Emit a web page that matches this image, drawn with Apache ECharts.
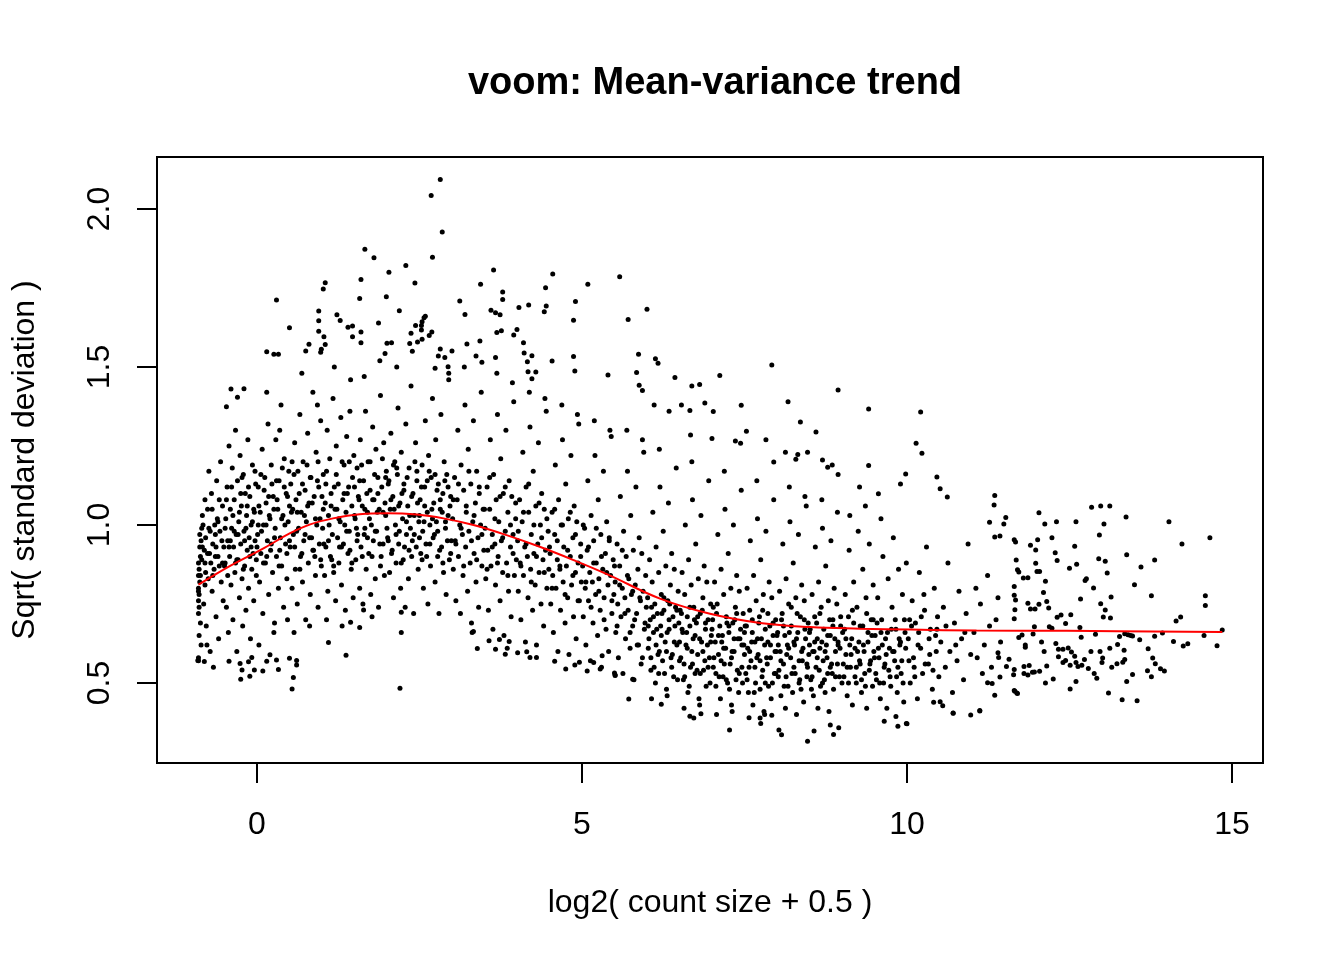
<!DOCTYPE html>
<html><head><meta charset="utf-8">
<script src="https://cdn.jsdelivr.net/npm/echarts@6/dist/echarts.min.js"></script>
<style>html,body{margin:0;padding:0;background:#fff}#c{width:1344px;height:960px}</style>
</head><body><div id="c"></div>
<script>
const chartTitle = 'voom: Mean-variance trend';
const xTitle = 'log2( count size + 0.5 )';
const yTitle = 'Sqrt( standard deviation )';
const xTicks = [0, 5, 10, 15];
const yTicks = [0.5, 1.0, 1.5, 2.0];
const trendX = [-0.9,-0.42,0.1,0.51,0.82,1.17,1.58,2.0,2.46,2.87,3.33,3.84,4.35,4.87,5.4,6.2,6.97,7.74,8.51,9.28,10.05,11.07,12.46,14.85];
const trendY = [0.811,0.870,0.926,0.974,1.002,1.021,1.034,1.037,1.033,1.021,1.0,0.968,0.931,0.889,0.843,0.767,0.719,0.690,0.677,0.672,0.669,0.666,0.665,0.661];

const genesLowMean = [
[-0.9,0.57],[-0.9,0.58],[-0.89,0.65],[-0.9,0.72],[-0.9,0.76],[-0.89,0.78],[-0.9,0.8],[-0.88,0.82],[-0.9,0.84],[-0.89,0.86],[-0.9,0.88],[-0.87,0.9],[-0.88,0.93],[-0.86,0.95],[-0.9,0.79],[-0.89,0.74],[-0.87,0.69],[-0.86,0.62],[-0.85,0.99],[-0.84,1.03],
[-0.82,0.75],[-0.8,0.88],[-0.79,0.96],[-0.78,0.68],[-0.76,1.05],[-0.75,0.83],[-0.73,0.91],[-0.72,0.6],[-0.7,1.1],[-0.69,0.79],[-0.68,0.94],[-0.66,0.86],[-0.65,1.0],[-0.63,0.71],[-0.62,1.14],[-0.6,0.9],[-0.59,0.64],[-0.57,0.98],[-0.56,1.2],[-0.55,0.82],[-0.53,1.06],[-0.52,0.76],[-0.51,0.93],[-0.8,1.08],[-0.77,0.62],[-0.74,1.17],[-0.67,0.55],[-0.64,0.97],[-0.61,1.02],[-0.58,0.87],
[-0.49,0.88],[-0.48,1.02],[-0.47,0.74],[-0.46,1.12],[-0.45,0.95],[-0.44,0.66],[-0.43,1.25],[-0.42,0.9],[-0.41,1.05],[-0.4,0.81],[-0.39,0.99],[-0.38,1.18],[-0.37,0.7],[-0.36,0.93],[-0.35,1.08],[-0.34,0.85],[-0.33,1.3],[-0.32,0.97],[-0.31,0.6],[-0.3,1.14],[-0.29,0.89],[-0.28,1.01],[-0.27,0.77],[-0.26,1.22],[-0.25,0.94],[-0.24,1.06],[-0.23,0.83],[-0.22,0.68],[-0.21,1.16],[-0.2,0.98],[-0.19,0.87],[-0.18,1.1],[-0.17,0.73],[-0.16,1.03],[-0.15,0.92],[-0.14,1.27],[-0.13,0.8],[-0.12,0.96],[-0.11,1.09],[-0.1,0.64],[-0.09,1.0],[-0.08,0.86],[-0.07,1.19],[-0.06,0.91],[-0.05,0.76],[-0.04,1.04],[-0.03,0.95],[-0.02,1.13],[-0.01,0.84],
[0.01,0.97],[0.02,1.12],[0.04,0.82],[0.05,1.04],[0.06,0.91],[0.08,1.24],[0.09,0.72],[0.1,1.0],[0.12,1.15],[0.13,0.88],[0.14,1.07],[0.16,0.95],[0.17,1.32],[0.18,0.78],[0.2,1.02],[0.21,0.92],[0.22,1.19],[0.24,0.85],[0.25,1.09],[0.26,0.66],[0.28,0.99],[0.29,1.27],[0.3,0.9],[0.32,1.05],[0.33,0.8],[0.34,1.14],[0.36,0.96],[0.37,1.38],[0.38,0.87],[0.4,1.03],[0.41,0.74],[0.42,1.21],[0.44,0.94],[0.45,1.1],[0.46,0.83],[0.48,1.01],[0.49,1.17],[0.03,0.62],[0.15,1.42],[0.27,0.69],[0.35,1.3],[0.47,0.7],
[0.51,0.93],[0.52,1.13],[0.54,0.8],[0.55,1.05],[0.56,0.97],[0.58,1.26],[0.59,0.86],[0.6,1.08],[0.62,0.75],[0.63,1.17],[0.64,0.99],[0.66,1.35],[0.67,0.9],[0.68,1.04],[0.7,0.82],[0.71,1.2],[0.72,0.95],[0.74,1.11],[0.75,0.7],[0.76,1.01],[0.78,1.29],[0.79,0.88],[0.8,1.07],[0.82,0.78],[0.83,1.15],[0.84,0.96],[0.86,1.42],[0.87,0.92],[0.88,1.09],[0.9,0.84],[0.91,1.23],[0.92,1.0],[0.94,0.74],[0.95,1.12],[0.96,0.94],[0.98,1.33],[0.99,0.87],[0.57,0.66],[0.69,1.48],[0.81,0.68],[0.93,1.38],
[1.01,0.99],[1.02,1.16],[1.04,0.84],[1.05,1.07],[1.06,0.93],[1.08,1.3],[1.09,0.79],[1.1,1.03],[1.12,1.21],[1.13,0.9],[1.14,1.1],[1.16,0.97],[1.17,1.4],[1.18,0.85],[1.2,1.05],[1.21,0.76],[1.22,1.25],[1.24,0.96],[1.25,1.13],[1.26,0.88],[1.28,1.01],[1.29,1.34],[1.3,0.81],[1.32,1.08],[1.33,0.94],[1.34,1.19],[1.36,0.73],[1.37,1.04],[1.38,1.28],[1.4,0.91],[1.41,1.12],[1.42,0.98],[1.44,1.46],[1.45,0.86],[1.46,1.06],[1.48,0.77],[1.49,1.22],[1.07,0.7],[1.19,1.5],[1.31,0.68],[1.43,1.36],
[1.51,1.02],[1.52,0.89],[1.54,1.18],[1.55,0.97],[1.56,1.09],[1.58,0.8],[1.59,1.27],[1.6,0.93],[1.62,1.06],[1.63,0.75],[1.64,1.14],[1.66,0.99],[1.67,1.36],[1.68,0.86],[1.7,1.04],[1.71,1.2],[1.72,0.91],[1.74,1.11],[1.75,0.78],[1.76,1.0],[1.78,1.31],[1.79,0.95],[1.8,1.08],[1.82,0.83],[1.83,1.24],[1.84,0.98],[1.86,1.15],[1.87,0.74],[1.88,1.05],[1.9,1.41],[1.91,0.9],[1.92,1.12],[1.94,0.94],[1.95,1.26],[1.96,0.84],[1.98,1.03],[1.99,1.17],[1.65,1.47],[1.89,1.52],
[2.01,0.96],[2.02,1.13],[2.04,0.85],[2.05,1.05],[2.06,1.29],[2.08,0.92],[2.09,1.09],[2.1,0.77],[2.12,1.2],[2.13,1.0],[2.14,0.88],[2.16,1.16],[2.17,1.37],[2.18,0.94],[2.2,1.07],[2.21,0.8],[2.22,1.23],[2.24,1.02],[2.25,0.89],[2.26,1.11],[2.28,0.74],[2.29,1.32],[2.3,0.97],[2.32,1.06],[2.33,0.83],[2.34,1.18],[2.36,0.99],[2.37,1.44],[2.38,0.9],[2.4,1.1],[2.41,0.72],[2.42,1.03],[2.44,1.26],[2.45,0.93],[2.46,1.14],[2.48,0.86],[2.49,1.01],[2.15,1.5],[2.39,1.55],
[2.51,1.08],[2.52,0.91],[2.54,1.19],[2.55,0.98],[2.56,0.8],[2.58,1.12],[2.59,1.33],[2.6,0.94],[2.62,1.04],[2.63,0.75],[2.64,1.22],[2.66,1.0],[2.67,0.87],[2.68,1.15],[2.7,1.4],[2.71,0.96],[2.72,1.07],[2.74,0.82],[2.75,1.27],[2.76,1.01],[2.78,0.9],[2.79,1.13],[2.8,0.72],[2.82,1.05],[2.83,1.35],[2.84,0.93],[2.86,1.1],[2.87,0.85],[2.88,1.2],[2.9,0.99],[2.91,0.78],[2.92,1.16],[2.94,1.03],[2.95,1.46],[2.96,0.89],[2.98,1.09],[2.99,0.95],[2.65,1.6],[2.89,1.53]
];

const denseLowMean = [
[-0.88,0.97],[-0.85,0.89],[-0.83,1.0],[-0.81,0.92],[-0.79,0.85],[-0.74,0.99],[-0.71,0.88],[-0.69,1.05],[-0.64,0.9],[-0.6,1.01],[-0.54,0.95],[-0.5,0.87],[-0.47,1.08],[-0.43,0.93],[-0.39,1.12],[-0.35,0.98],[-0.31,0.89],[-0.27,1.04],[-0.23,1.15],[-0.19,0.95],[-0.15,1.06],[-0.11,0.9],[-0.07,1.01],[-0.03,1.17],[0.0,0.93],[0.03,1.06],[0.07,0.98],[0.11,1.11],[0.15,0.9],[0.19,1.03],[0.23,1.13],[0.27,0.96],[0.31,1.08],[0.35,0.92],[0.39,1.18],[0.43,1.0],[0.47,1.09],[0.5,0.95],[0.53,1.04],[0.57,1.16],[0.61,0.98],[0.65,1.1],[0.69,0.91],[0.73,1.03],[0.77,1.19],[0.81,0.96],[0.85,1.07],[0.89,0.9],[0.93,1.14],[0.97,1.02],[1.0,1.09],[1.03,0.94],[1.07,1.17],[1.11,1.0],[1.15,0.89],[1.19,1.12],[1.23,1.05],[1.27,0.93],[1.31,1.2],[1.35,1.0],[1.39,1.1],[1.43,0.92],[1.47,1.15],[1.5,1.03],[1.54,0.95],[1.57,1.08],[1.61,1.19],[1.65,0.97],[1.69,1.1],[1.73,1.02],[1.77,0.9],[1.81,1.16],[1.85,1.04],[1.89,0.94],[1.93,1.21],[1.97,1.07],[2.0,0.99],[2.03,1.14],[2.07,0.91],[2.11,1.05],[2.15,1.18],[2.19,0.98],[2.23,1.1],[2.27,0.93],[2.31,1.15],[2.35,1.03],[2.39,0.95],[2.43,1.2],[2.47,1.07],[2.5,0.96],[2.53,1.12],[2.57,1.01],[2.61,0.9],[2.65,1.17],[2.69,1.05],[2.73,0.97],[2.77,1.11],[2.81,0.92],[2.85,1.04],[2.89,1.14],[2.93,0.95],[2.97,1.06],
[-0.87,0.84],[-0.84,0.93],[-0.8,0.81],[-0.76,0.91],[-0.72,0.98],[-0.68,0.84],[-0.63,0.93],[-0.58,1.08],[-0.53,0.88],[-0.49,0.99],[-0.45,0.84],[-0.41,0.95],[-0.37,1.03],[-0.33,0.88],[-0.29,0.97],[-0.25,1.1],[-0.21,0.86],[-0.17,0.99],[-0.13,1.12],[-0.09,0.93],[-0.05,1.05],[-0.01,0.89],[0.02,1.0],[0.06,1.16],[0.1,0.88],[0.14,1.0],[0.18,1.09],[0.22,0.94],[0.26,1.05],[0.3,1.14],[0.34,0.87],[0.38,1.02],[0.42,1.12],[0.46,0.91],[0.5,1.06],[0.54,1.2],[0.58,0.93],[0.62,1.04],[0.66,0.86],[0.7,1.13],[0.74,0.97],[0.78,1.06],[0.82,1.15],[0.86,0.92],[0.9,1.02],[0.94,1.2],[0.98,0.89],[1.02,1.05],[1.06,1.13],[1.1,0.95],[1.14,1.06],[1.18,0.87],[1.22,1.16],[1.26,1.02],[1.3,0.93],[1.34,1.1],[1.38,0.98],[1.42,1.2],[1.46,0.88],[1.5,1.12],[1.53,0.99],[1.58,1.14],[1.62,0.9],[1.66,1.05],[1.7,0.96],[1.74,1.2],[1.78,1.08],[1.82,0.98],[1.86,1.1],[1.9,0.87],[1.94,1.04],[1.98,1.15],[2.02,0.95],[2.06,1.08],[2.1,1.19],[2.14,0.97],[2.18,1.06],[2.22,0.88],[2.26,1.13],[2.3,1.01],[2.34,0.92],[2.38,1.09],[2.42,0.97],[2.46,1.17],[2.5,1.03],[2.54,0.89],[2.58,1.06],[2.62,1.14],[2.66,0.94],[2.7,1.02],[2.74,1.16],[2.78,0.98],[2.82,1.08],[2.86,0.88],[2.9,1.01],[2.94,1.12],[2.98,0.91]
];

const genesMidMean = [
[3.01,1.02],[3.02,0.86],[3.04,1.15],[3.05,0.95],[3.06,0.76],[3.08,1.08],[3.09,1.3],[3.1,0.9],[3.12,1.0],[3.13,0.72],[3.14,1.19],[3.16,0.97],[3.17,0.84],[3.18,1.11],[3.2,1.38],[3.21,0.93],[3.22,1.04],[3.24,0.79],[3.25,1.24],[3.26,0.98],[3.28,0.88],[3.29,1.13],[3.3,0.69],[3.32,1.01],[3.33,1.33],[3.34,0.91],[3.36,1.07],[3.37,0.82],[3.38,1.17],[3.4,0.96],[3.41,0.74],[3.42,1.12],[3.44,1.0],[3.45,1.42],[3.46,0.87],[3.48,1.05],[3.49,0.92],[3.19,1.5],[3.31,0.66],
[3.51,0.99],[3.52,0.83],[3.54,1.12],[3.55,0.92],[3.56,0.73],[3.58,1.05],[3.59,1.27],[3.6,0.87],[3.62,0.97],[3.63,0.67],[3.64,1.16],[3.66,0.94],[3.67,0.81],[3.68,1.08],[3.7,1.35],[3.71,0.9],[3.72,1.01],[3.74,0.76],[3.75,1.21],[3.76,0.95],[3.78,0.85],[3.79,1.1],[3.8,0.65],[3.82,0.98],[3.83,1.3],[3.84,0.88],[3.86,1.04],[3.87,0.79],[3.88,1.14],[3.9,0.93],[3.91,0.71],[3.92,1.09],[3.94,0.97],[3.95,1.39],[3.96,0.84],[3.98,1.02],[3.99,0.89],[3.69,1.48],[3.93,1.45],
[4.01,0.95],[4.02,0.79],[4.04,1.08],[4.05,0.88],[4.06,0.7],[4.08,1.01],[4.09,1.23],[4.1,0.84],[4.12,0.93],[4.13,0.63],[4.14,1.12],[4.16,0.9],[4.17,0.77],[4.18,1.04],[4.2,1.31],[4.21,0.86],[4.22,0.97],[4.24,0.73],[4.25,1.17],[4.26,0.91],[4.28,0.81],[4.29,1.06],[4.3,0.62],[4.32,0.94],[4.33,1.26],[4.34,0.85],[4.36,1.0],[4.37,0.75],[4.38,1.1],[4.4,0.89],[4.41,0.68],[4.42,1.05],[4.44,0.92],[4.45,1.36],[4.46,0.8],[4.48,0.98],[4.49,0.86],[4.19,1.42],[4.43,1.4],
[4.51,0.91],[4.52,0.75],[4.54,1.04],[4.55,0.84],[4.56,0.66],[4.58,0.97],[4.59,1.19],[4.6,0.8],[4.62,0.89],[4.63,0.6],[4.64,1.08],[4.66,0.86],[4.67,0.73],[4.68,1.0],[4.7,1.27],[4.71,0.82],[4.72,0.93],[4.74,0.69],[4.75,1.13],[4.76,0.87],[4.78,0.77],[4.79,1.02],[4.8,0.59],[4.82,0.9],[4.83,1.22],[4.84,0.81],[4.86,0.96],[4.87,0.71],[4.88,1.06],[4.9,0.85],[4.91,0.64],[4.92,1.01],[4.94,0.88],[4.95,1.32],[4.96,0.76],[4.98,0.94],[4.99,0.82],[4.69,1.38],[4.93,1.35],
[5.01,0.87],[5.02,0.71],[5.04,0.99],[5.05,0.8],[5.06,0.62],[5.08,0.92],[5.09,1.14],[5.1,0.76],[5.12,0.85],[5.13,0.57],[5.14,1.03],[5.16,0.82],[5.17,0.69],[5.18,0.95],[5.2,1.22],[5.21,0.78],[5.22,0.88],[5.24,0.65],[5.25,1.08],[5.26,0.83],[5.28,0.73],[5.29,0.97],[5.3,0.55],[5.32,0.86],[5.33,1.17],[5.34,0.77],[5.36,0.91],[5.37,0.67],[5.38,1.01],[5.4,0.81],[5.41,0.6],[5.42,0.96],[5.44,0.84],[5.45,1.28],[5.46,0.72],[5.48,0.89],[5.49,0.78],[5.19,1.33],[5.43,1.3],
[5.51,0.82],[5.52,0.66],[5.54,0.94],[5.55,0.75],[5.56,0.58],[5.58,0.87],[5.59,1.09],[5.6,0.71],[5.62,0.8],[5.63,0.53],[5.64,0.98],[5.66,0.77],[5.67,0.64],[5.68,0.9],[5.7,1.17],[5.71,0.73],[5.72,0.83],[5.74,0.61],[5.75,1.03],[5.76,0.78],[5.78,0.68],[5.79,0.92],[5.8,0.51],[5.82,0.81],[5.83,1.12],[5.84,0.72],[5.86,0.86],[5.87,0.62],[5.88,0.96],[5.9,0.76],[5.91,0.56],[5.92,0.91],[5.94,0.79],[5.95,1.23],[5.96,0.67],[5.98,0.84],[5.99,0.74],[5.69,1.3],[5.93,1.27],
[6.01,0.77],[6.02,0.61],[6.04,0.89],[6.05,0.7],[6.06,0.54],[6.08,0.82],[6.09,1.04],[6.1,0.66],[6.12,0.75],[6.13,0.5],[6.14,0.93],[6.16,0.72],[6.17,0.59],[6.18,0.85],[6.2,1.12],[6.21,0.68],[6.22,0.78],[6.24,0.57],[6.25,0.98],[6.26,0.73],[6.28,0.63],[6.29,0.87],[6.3,0.48],[6.32,0.76],[6.33,1.07],[6.34,0.67],[6.36,0.81],[6.37,0.58],[6.38,0.91],[6.4,0.71],[6.41,0.52],[6.42,0.86],[6.44,0.74],[6.45,1.18],[6.46,0.62],[6.48,0.79],[6.49,0.69],[6.07,0.45],[6.19,1.24],[6.31,0.46],
[6.51,0.73],[6.52,0.58],[6.54,0.85],[6.55,0.66],[6.56,0.51],[6.58,0.78],[6.59,1.0],[6.6,0.62],[6.62,0.71],[6.63,0.47],[6.64,0.89],[6.66,0.68],[6.67,0.55],[6.68,0.81],[6.7,1.08],[6.71,0.64],[6.72,0.74],[6.74,0.53],[6.75,0.94],[6.76,0.69],[6.78,0.59],[6.79,0.83],[6.8,0.45],[6.82,0.72],[6.83,1.03],[6.84,0.63],[6.86,0.77],[6.87,0.54],[6.88,0.87],[6.9,0.67],[6.91,0.49],[6.92,0.82],[6.94,0.7],[6.95,1.14],[6.96,0.58],[6.98,0.75],[6.99,0.65],[6.57,0.42],[6.69,1.2],[6.81,0.43]
];

const denseMidMean = [
[3.02,1.08],[3.06,0.94],[3.1,1.13],[3.14,0.99],[3.18,0.87],[3.22,1.06],[3.26,1.17],[3.3,0.95],[3.34,1.03],[3.38,0.89],[3.42,1.1],[3.46,0.97],[3.5,1.05],[3.54,0.86],[3.58,1.15],[3.62,0.93],[3.66,1.02],[3.7,0.88],[3.74,1.09],[3.78,0.96],[3.82,1.12],[3.86,0.84],[3.9,1.0],[3.94,0.91],[3.98,1.07],[4.02,0.98],[4.06,0.87],[4.1,1.04],[4.14,0.94],[4.18,1.13],[4.22,0.82],[4.26,1.0],[4.3,0.9],[4.34,1.07],[4.38,0.96],[4.42,0.85],[4.46,1.02],[4.5,0.93],[4.54,0.8],[4.58,1.05],[4.62,0.95],[4.66,0.87],[4.7,1.0],[4.74,0.78],[4.78,0.92],[4.82,1.04],[4.86,0.84],[4.9,0.97],[4.94,0.76],[4.98,0.9],[5.02,1.0],[5.06,0.82],[5.1,0.93],[5.14,0.74],[5.18,0.88],[5.22,0.99],[5.26,0.79],[5.3,0.9],[5.34,0.7],[5.38,0.85],[5.42,0.95],[5.46,0.76],[5.5,0.87],[5.54,0.68],[5.58,0.81],[5.62,0.92],[5.66,0.72],[5.7,0.84],[5.74,0.66],[5.78,0.79]
];

const denseHighMean = [
[5.81,0.7],[5.85,0.62],[5.89,0.77],[5.93,0.58],[5.97,0.69],[6.03,0.64],[6.07,0.74],[6.11,0.55],[6.15,0.67],[6.19,0.6],[6.23,0.72],[6.27,0.53],[6.31,0.66],[6.35,0.75],[6.39,0.59],[6.43,0.68],[6.47,0.51],[6.5,0.63],[6.53,0.72],[6.57,0.56],[6.61,0.66],[6.65,0.49],[6.69,0.6],[6.73,0.7],[6.77,0.54],[6.81,0.64],[6.85,0.73],[6.89,0.57],[6.93,0.62],[6.97,0.5],[7.0,0.67],[7.03,0.58],[7.07,0.72],[7.11,0.52],[7.15,0.63],[7.19,0.56],[7.23,0.69],[7.27,0.48],[7.31,0.6],[7.35,0.7],[7.39,0.54],[7.43,0.64],[7.47,0.5],[7.5,0.59],[7.53,0.68],[7.57,0.55],[7.61,0.63],[7.65,0.47],[7.69,0.58],[7.73,0.71],[7.77,0.52],[7.81,0.62],[7.85,0.56],[7.89,0.68],[7.93,0.5],[7.97,0.6],[8.0,0.65],[8.03,0.54],[8.07,0.7],[8.11,0.49],[8.15,0.59],[8.19,0.66],[8.23,0.53],[8.27,0.62],[8.31,0.72],[8.35,0.51],[8.39,0.57],[8.43,0.67],[8.47,0.55],[8.5,0.62],[8.53,0.48],[8.57,0.6],[8.61,0.69],[8.65,0.54],[8.69,0.63],[8.73,0.51],[8.77,0.58],[8.81,0.7],[8.85,0.53],[8.89,0.64],[8.93,0.56],[8.97,0.61],[9.0,0.5],[9.04,0.67],[9.08,0.55],[9.12,0.62],[9.16,0.73],[9.2,0.52],[9.24,0.6],[9.28,0.56],[9.32,0.68],[9.36,0.49],[9.4,0.63],[9.44,0.57],[9.48,0.7],[9.52,0.53],[9.56,0.61],[9.6,0.66],[9.64,0.5],[9.68,0.59],[9.72,0.54],[9.76,0.67],[9.8,0.6],[9.84,0.52],[9.88,0.64],[9.92,0.57],[9.96,0.7],
[6.02,0.68],[6.06,0.58],[6.1,0.71],[6.14,0.62],[6.18,0.53],[6.22,0.65],[6.26,0.77],[6.3,0.6],[6.34,0.7],[6.38,0.55],[6.42,0.63],[6.46,0.73],[6.5,0.57],[6.54,0.67],[6.58,0.52],[6.62,0.61],[6.66,0.74],[6.7,0.56],[6.74,0.65],[6.78,0.71],[6.82,0.53],[6.86,0.6],[6.9,0.69],[6.94,0.55],[6.98,0.63],[7.02,0.74],[7.06,0.53],[7.1,0.65],[7.14,0.57],[7.18,0.61],[7.22,0.51],[7.26,0.68],[7.3,0.58],[7.34,0.64],[7.38,0.72],[7.42,0.53],[7.46,0.62],[7.5,0.66],[7.54,0.51],[7.58,0.6],[7.62,0.7],[7.66,0.55],[7.7,0.64],[7.74,0.57],[7.78,0.73],[7.82,0.5],[7.86,0.63],[7.9,0.58],[7.94,0.69],[7.98,0.53],[8.02,0.62],[8.06,0.57],[8.1,0.68],[8.14,0.52],[8.18,0.61],[8.22,0.74],[8.26,0.55],[8.3,0.64],[8.34,0.5],[8.38,0.6],[8.42,0.7],[8.46,0.56],[8.5,0.66],[8.54,0.52],[8.58,0.63],[8.62,0.58],[8.66,0.72],[8.7,0.5],[8.74,0.6],[8.78,0.65],[8.82,0.55],[8.86,0.68],[8.9,0.52],[8.94,0.62],[8.98,0.71],[9.02,0.56],[9.06,0.64],[9.1,0.5],[9.14,0.59],[9.18,0.69],[9.22,0.55],[9.26,0.63],[9.3,0.51],[9.34,0.6],[9.38,0.72],[9.42,0.54],[9.46,0.65],[9.5,0.58],[9.54,0.69],[9.58,0.5],[9.62,0.62],[9.66,0.56],[9.7,0.66],[9.74,0.52],[9.78,0.6],[9.82,0.7],[9.86,0.55],[9.9,0.63],[9.94,0.5],[9.98,0.61],[10.03,0.57],[10.07,0.68],[10.12,0.52],[10.17,0.62],[10.22,0.71],[10.28,0.56],[10.34,0.64],[10.4,0.54],[10.46,0.67]
];

const genesHighMean = [
[7.01,0.7],[7.02,0.55],[7.04,0.82],[7.05,0.63],[7.06,0.49],[7.08,0.75],[7.09,0.97],[7.1,0.59],[7.12,0.68],[7.13,0.45],[7.14,0.86],[7.16,0.65],[7.17,0.52],[7.18,0.78],[7.2,1.05],[7.21,0.61],[7.22,0.71],[7.24,0.5],[7.25,0.91],[7.26,0.66],[7.28,0.56],[7.29,0.8],[7.3,0.43],[7.32,0.69],[7.33,1.0],[7.34,0.6],[7.36,0.74],[7.37,0.51],[7.38,0.84],[7.4,0.64],[7.41,0.47],[7.42,0.79],[7.44,0.67],[7.45,1.11],[7.46,0.55],[7.48,0.72],[7.49,0.62],[7.07,0.4],[7.19,1.17],[7.31,0.41],
[7.51,0.68],[7.52,0.53],[7.54,0.8],[7.55,0.61],[7.56,0.47],[7.58,0.73],[7.59,0.95],[7.6,0.57],[7.62,0.66],[7.63,0.43],[7.64,0.84],[7.66,0.63],[7.67,0.5],[7.68,0.76],[7.7,1.02],[7.71,0.59],[7.72,0.69],[7.74,0.48],[7.75,0.89],[7.76,0.64],[7.78,0.54],[7.79,0.78],[7.8,0.41],[7.82,0.67],[7.83,0.98],[7.84,0.58],[7.86,0.72],[7.87,0.49],[7.88,0.82],[7.9,0.62],[7.91,0.45],[7.92,0.77],[7.94,0.65],[7.95,1.08],[7.96,0.53],[7.98,0.7],[7.99,0.6],[7.57,0.39],[7.69,1.14],[7.81,0.4],
[8.01,0.66],[8.02,0.52],[8.04,0.79],[8.05,0.6],[8.06,0.46],[8.08,0.72],[8.09,0.94],[8.1,0.56],[8.12,0.65],[8.13,0.42],[8.14,0.83],[8.16,0.62],[8.17,0.49],[8.18,0.75],[8.2,1.01],[8.21,0.58],[8.22,0.68],[8.24,0.47],[8.25,0.88],[8.26,0.63],[8.28,0.53],[8.29,0.77],[8.3,0.4],[8.32,0.66],[8.33,0.97],[8.34,0.57],[8.36,0.71],[8.37,0.48],[8.38,0.81],[8.4,0.61],[8.41,0.44],[8.42,0.76],[8.44,0.64],[8.45,1.06],[8.46,0.52],[8.48,0.69],[8.49,0.59],[8.19,1.12],[8.43,1.09],
[8.51,0.67],[8.52,0.51],[8.54,0.78],[8.55,0.6],[8.56,0.46],[8.58,0.71],[8.59,0.93],[8.6,0.55],[8.62,0.64],[8.63,0.42],[8.64,0.82],[8.66,0.61],[8.67,0.49],[8.68,0.74],[8.7,0.99],[8.71,0.57],[8.72,0.67],[8.74,0.47],[8.75,0.87],[8.76,0.62],[8.78,0.53],[8.79,0.76],[8.8,0.41],[8.82,0.65],[8.83,0.95],[8.84,0.56],[8.86,0.7],[8.87,0.48],[8.88,0.8],[8.9,0.6],[8.92,0.75],[8.94,0.63],[8.96,0.52],[8.98,0.68],[8.69,1.08],[8.93,1.04],
[9.01,0.66],[9.03,0.52],[9.05,0.78],[9.06,0.59],[9.08,0.46],[9.1,0.71],[9.11,0.92],[9.13,0.55],[9.15,0.64],[9.16,0.43],[9.18,0.82],[9.2,0.61],[9.22,0.5],[9.23,0.74],[9.25,0.98],[9.27,0.57],[9.28,0.68],[9.3,0.47],[9.32,0.86],[9.33,0.62],[9.35,0.53],[9.37,0.77],[9.38,0.42],[9.4,0.66],[9.42,0.94],[9.43,0.56],[9.45,0.7],[9.47,0.49],[9.48,0.81],[9.49,0.6],[9.12,1.03],[9.36,1.06],
[9.51,0.65],[9.53,0.51],[9.55,0.77],[9.57,0.58],[9.59,0.45],[9.61,0.7],[9.63,0.9],[9.65,0.55],[9.67,0.64],[9.69,0.42],[9.71,0.83],[9.73,0.61],[9.75,0.49],[9.77,0.74],[9.79,0.96],[9.81,0.57],[9.83,0.67],[9.85,0.47],[9.87,0.86],[9.89,0.62],[9.91,0.53],[9.93,0.78],[9.95,0.44],[9.97,0.66],[9.99,0.88],[9.6,1.02],
[10.02,0.64],[10.05,0.5],[10.08,0.76],[10.1,0.58],[10.13,0.69],[10.16,0.45],[10.19,0.85],[10.21,0.61],[10.24,0.53],[10.27,0.73],[10.3,0.93],[10.33,0.56],[10.36,0.67],[10.39,0.48],[10.42,0.8],[10.45,0.6],[10.47,0.71],[10.49,0.52],[10.04,0.7],[10.11,0.55],[10.18,0.66],[10.26,0.78],[10.35,0.59],[10.44,0.65],
[10.52,0.63],[10.56,0.74],[10.59,0.55],[10.63,0.88],[10.66,0.6],[10.7,0.47],[10.73,0.69],[10.77,0.57],[10.8,0.79],[10.84,0.64],[10.87,0.51],[10.91,0.72],[10.94,0.94],[10.98,0.59],[10.6,0.68],[10.75,0.62],[10.89,0.66],
[11.03,0.66],[11.08,0.58],[11.13,0.75],[11.19,0.62],[11.24,0.84],[11.3,0.55],[11.37,0.7],[11.44,0.63],[11.06,0.8],[11.16,0.53],[11.27,0.68],[11.4,0.77]
];

const genesOutlying = [
[2.82,2.093],[2.68,2.043],[2.85,1.927],[2.70,1.847],[1.66,1.873],[1.80,1.846],[2.29,1.821],[2.03,1.80],[3.64,1.807],[4.55,1.794],[5.58,1.786],[2.43,1.766],[1.60,1.777],[1.05,1.767],[1.02,1.747],[3.44,1.762],[5.09,1.762],[4.44,1.751],[3.78,1.737],[3.78,1.714],[0.30,1.712],[1.58,1.717],[1.99,1.722],[3.12,1.709],[4.90,1.707],[4.18,1.696],[4.45,1.693],[4.42,1.675],[6.00,1.683],[4.03,1.688],[3.60,1.680],[3.67,1.672],[3.74,1.665],[2.19,1.678],[3.20,1.666],[0.95,1.677],[5.71,1.650],[4.87,1.648],[1.23,1.665],[1.28,1.647],[0.95,1.646],[0.95,1.613],[0.50,1.624],[1.40,1.626],[1.47,1.630],[1.47,1.596],[1.87,1.639],[2.59,1.661],[2.57,1.656],[2.54,1.643],[2.53,1.631],[2.53,1.617],[2.44,1.631],[2.69,1.611],[1.60,1.611],[1.60,1.577],[1.03,1.596],[1.05,1.571],[0.99,1.556],[0.98,1.547],[3.69,1.609],[3.76,1.615],[4.00,1.619],[3.95,1.601],[4.10,1.577],[4.87,1.533],[4.89,1.487],[4.54,1.519],[5.87,1.540],[5.84,1.483],[5.88,1.442],[5.93,1.426],[6.13,1.526],[6.17,1.512],[5.40,1.475],[0.15,1.548],[0.26,1.540],[0.33,1.540],[-0.40,1.430],[-0.20,1.431],[-0.30,1.404],[-0.47,1.374],[0.75,1.551],[0.80,1.572],[1.97,1.543],[2.07,1.577],[2.00,1.575],[2.37,1.607],[2.35,1.574],[2.47,1.579],[2.54,1.588],[3.37,1.535],[3.46,1.515],[3.43,1.582],[3.23,1.573],[3.67,1.530],[4.11,1.544],[4.23,1.536],[4.16,1.517],[4.29,1.484],[4.17,1.485],[4.23,1.463],[3.0,1.551],[2.94,1.501],[2.95,1.480],[2.74,1.496],[2.79,1.535],[2.82,1.557],
[6.43,1.467],[7.12,1.473],[7.92,1.506],[6.69,1.440],[6.81,1.445],[8.94,1.427],[8.17,1.390],[9.41,1.367],[10.21,1.358],[6.11,1.380],[6.53,1.380],[6.89,1.386],[6.34,1.360],[6.66,1.362],[7.02,1.359],[7.45,1.379],[8.36,1.326],[8.60,1.294],[10.14,1.259],[10.23,1.227],[7.53,1.297],[7.83,1.270],[6.67,1.285],[7.0,1.274],[7.36,1.266],[7.44,1.259],[9.41,1.188],[8.94,1.160],[8.70,1.206],[8.85,1.190],[8.78,1.183],[8.13,1.230],[8.32,1.223],[8.47,1.230],[8.29,1.208],[7.95,1.199],[9.98,1.161],[9.90,1.130],[10.46,1.152],[9.27,1.120],[9.56,1.099],
[10.51,1.115],[10.62,1.089],[11.35,1.093],[11.34,1.063],[12.84,1.056],[12.98,1.060],[13.12,1.060],[12.03,1.039],[13.37,1.025],[14.03,1.010],[14.66,0.960],[14.23,0.940],[12.96,0.968],[13.03,1.003],[12.58,0.933],[12.60,1.010],[12.30,1.010],[12.12,1.003],[12.23,0.960],[12.28,0.912],[12.31,0.888],[12.61,0.876],[12.50,0.863],[12.95,0.893],[13.05,0.885],[13.08,0.848],[13.38,0.906],[13.60,0.867],[13.81,0.889],[13.50,0.811],[12.74,0.824],[12.76,0.830],[12.87,0.801],[12.67,0.766],[12.98,0.751],[13.05,0.731],[13.02,0.709],[13.13,0.706],[13.14,0.772],[13.76,0.776],[14.59,0.776],[14.59,0.745],[14.14,0.696],[14.21,0.709],[14.85,0.668],[14.57,0.650],[14.77,0.618],[14.25,0.617],[14.32,0.624],[13.81,0.648],[13.93,0.658],[14.10,0.631],[13.71,0.608],[13.78,0.579],[13.82,0.561],[13.96,0.538],[13.90,0.545],[13.76,0.520],[13.70,0.539],[13.58,0.637],[13.44,0.650],[13.35,0.656],[13.27,0.647],[13.24,0.622],[13.12,0.610],[13.34,0.604],[13.35,0.574],[13.23,0.561],[13.15,0.550],[13.32,0.566],[13.00,0.565],[12.83,0.600],[12.97,0.600],[13.01,0.579],[12.79,0.546],[12.88,0.530],[12.92,0.515],[13.38,0.505],[13.47,0.527],[13.10,0.468],[13.31,0.447],[13.54,0.444],[12.51,0.481],[12.60,0.505],[12.53,0.598],[12.58,0.585],[12.60,0.565],[12.63,0.552],[12.69,0.556],[12.73,0.574],[12.51,0.556],[12.44,0.571],[12.40,0.565],[12.33,0.583],[12.29,0.625],[12.33,0.607],[12.40,0.607],[12.48,0.611],[12.25,0.513],[12.13,0.500],[12.15,0.554],[11.93,0.534],[12.04,0.537],[12.11,0.600],[11.69,0.468],[11.66,0.474],[11.80,0.530],[11.86,0.525],[11.88,0.555],[11.80,0.552],[11.96,0.535],[12.07,0.630],[12.19,0.678],[12.23,0.673],[11.94,0.655],[11.96,0.678],[12.31,0.708],[12.37,0.715],[12.44,0.688],[12.52,0.716],[12.66,0.676],[12.68,0.645],[12.90,0.654],[13.40,0.653],[13.47,0.649],[12.10,0.786],[12.15,0.758],[12.18,0.737],[12.03,0.749],[11.97,0.734],[11.90,0.734],[11.86,0.752],[12.04,0.853],[12.00,0.853],[11.98,0.879],[11.90,0.936],[12.13,0.822],[11.79,0.832],[11.86,0.833],[12.01,0.953],[11.98,0.921],[11.68,0.889],[11.70,0.858],[11.72,0.851],[11.65,0.953],[11.67,0.946],[11.52,1.024],[11.49,1.003],[11.27,1.009],[11.43,0.965],[11.35,0.962],[11.65,0.805],[11.65,0.778],[11.67,0.763],[11.66,0.732],[11.65,0.703],[11.72,0.644],[11.77,0.652],[11.82,0.613],[11.82,0.620],[11.64,0.526],[11.65,0.543],[11.53,0.552],[11.57,0.575],[11.41,0.581],[11.40,0.596],[11.43,0.519],[11.35,0.461],[11.70,0.467],[11.31,0.498],[11.24,0.501],[11.12,0.413],[10.98,0.399],[10.71,0.405],[10.0,0.371],[10.41,0.439],[10.51,0.441],[10.55,0.428],
[0.54,0.481],[2.20,0.483],[-0.25,0.512],[-0.11,0.521],[0.56,0.517],[-0.23,0.541],[-0.04,0.541],[0.09,0.538],[0.33,0.543],[0.61,0.557],[0.50,0.578],[0.61,0.571],[-0.43,0.569],[-0.26,0.562],[-0.13,0.567],[-0.08,0.581],[0.15,0.569],[0.20,0.589],[0.30,0.573],[-0.91,0.571],[-0.81,0.568],[1.37,0.588],[1.10,0.628],[1.58,0.676],[1.44,0.692],[1.77,0.710],[1.64,0.731],[2.22,0.660],[2.22,0.724],[3.39,0.609],[3.33,0.663],[3.57,0.634],[3.67,0.607],[3.73,0.638],[3.82,0.591],[3.85,0.610],[3.88,0.631],[4.01,0.596],[4.15,0.599],[4.20,0.581],[4.30,0.581],[4.58,0.569],[4.75,0.544],[4.89,0.557],[5.08,0.538],[5.28,0.544],[5.51,0.524],[5.50,0.532],[4.96,0.566],[5.18,0.565],[5.31,0.586],
[8.47,0.316],[7.27,0.351],[8.03,0.351],[8.07,0.336],[8.57,0.348],[8.87,0.337],[7.75,0.372],[7.74,0.389],[7.92,0.398],[8.82,0.367],[8.95,0.358],[6.66,0.395],[6.72,0.389],[6.83,0.403],[9.65,0.379],[9.86,0.363],[9.99,0.372],[9.83,0.394],[10.71,0.404],[11.12,0.411],[5.72,0.449],[6.22,0.433],[5.51,0.525],[5.78,0.512],[11.65,0.476]
];

const allGenes = [].concat(genesLowMean, denseLowMean, genesMidMean, denseMidMean, denseHighMean, genesHighMean, genesOutlying);
const trendData = trendX.map((x, i) => [x, trendY[i]]);

const FONT = 'Liberation Sans, Arial, Helvetica, sans-serif';
const chart = echarts.init(document.getElementById('c'), null, {renderer: 'canvas'});
chart.setOption({
  animation: false,
  backgroundColor: '#ffffff',
  title: {
    text: chartTitle, left: 710, top: 60, textAlign: 'center',
    textStyle: {fontFamily: FONT, fontSize: 38, fontWeight: 'bold', color: '#000'}
  },
  grid: {left: 157, top: 157, width: 1106, height: 606, show: true, borderColor: '#000', borderWidth: 2, backgroundColor: 'transparent'},
  xAxis: {
    type: 'value', min: -1.538, max: 15.477,
    name: xTitle, nameLocation: 'middle', nameGap: 124,
    nameTextStyle: {fontFamily: FONT, fontSize: 32, color: '#000'},
    axisLine: {show: false, onZero: false},
    splitLine: {show: false},
    axisTick: {show: true, inside: false, length: 20, customValues: xTicks, lineStyle: {color: '#000', width: 2}},
    axisLabel: {customValues: xTicks, margin: 46, fontFamily: FONT, fontSize: 32, color: '#000'}
  },
  yAxis: {
    type: 'value', min: 0.2468, max: 2.1646,
    name: yTitle, nameLocation: 'middle', nameGap: 116,
    nameTextStyle: {fontFamily: FONT, fontSize: 32, color: '#000'},
    axisLine: {show: false, onZero: false},
    splitLine: {show: false},
    axisTick: {show: true, inside: false, length: 20, customValues: yTicks, lineStyle: {color: '#000', width: 2}},
    axisLabel: {customValues: yTicks, rotate: 90, margin: 41, fontFamily: FONT, fontSize: 32, color: '#000',
      formatter: v => v.toFixed(1)}
  },
  series: [
    {type: 'scatter', data: allGenes, symbol: 'circle', symbolSize: 5, large: false, largeThreshold: 100000,
     itemStyle: {color: '#000', opacity: 1}, silent: true, z: 2},
    {type: 'line', data: trendData, smooth: 0.4, showSymbol: false, silent: true,
     lineStyle: {color: '#ff0000', width: 2}, z: 3}
  ]
});
</script></body></html>
